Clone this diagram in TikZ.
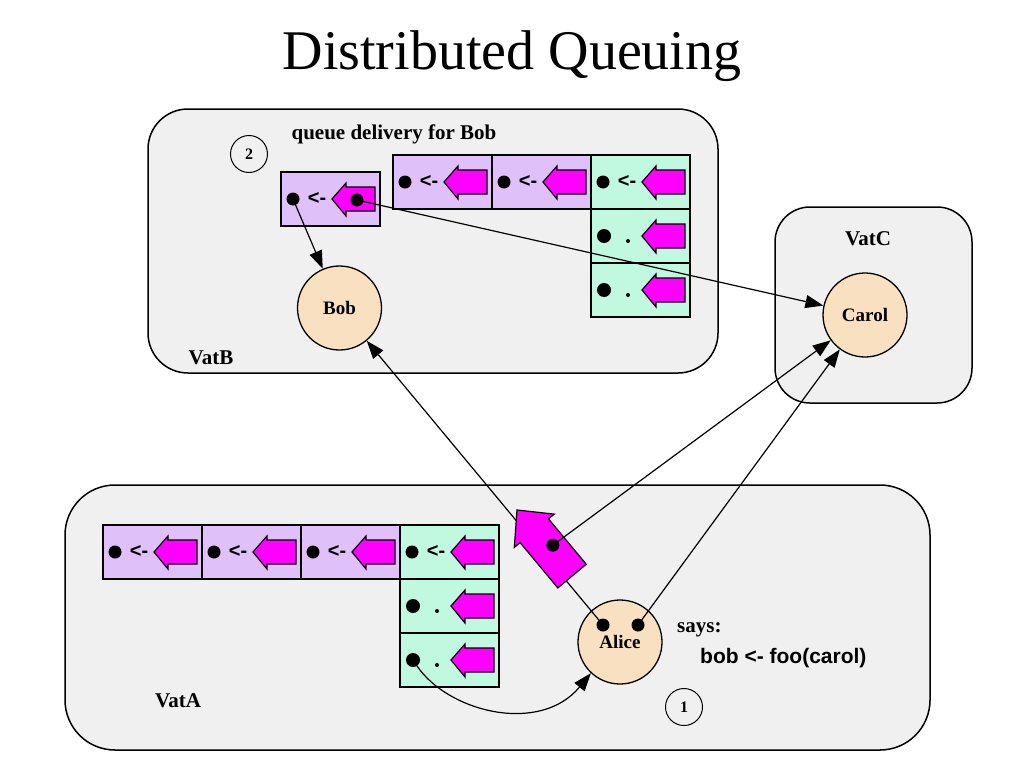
\documentclass[tikz,border=0pt]{standalone}
\usepackage{fontspec}
\setmainfont{Liberation Serif}
\setsansfont{Liberation Sans}
\usetikzlibrary{arrows.meta}
\definecolor{boxgray}{RGB}{240,240,240}
\definecolor{cellpurp}{RGB}{224,192,248}
\definecolor{cellgreen}{RGB}{192,248,224}
\definecolor{peach}{RGB}{248,224,192}
\definecolor{mag}{RGB}{255,0,255}
\tikzset{
  vat/.style={draw=black, fill=boxgray, line width=1.5pt, rounded corners=#1, inner sep=0pt, outer sep=0pt},
  cellbox/.style={draw=black, line width=1.8pt, minimum width=99pt, minimum height=54pt, inner sep=0pt, outer sep=0pt, anchor=north west},
  dotn/.style={circle, fill=black, inner sep=0pt, outer sep=0pt, minimum size=13pt},
  smalldot/.style={circle, fill=black, inner sep=0pt, minimum size=4pt},
  magarrow/.style={fill=mag, draw=black, line width=1.2pt, line join=miter},
  ltxt/.style={font=\sffamily\bfseries\fontsize{20}{22}\selectfont, inner sep=0pt},
  lbl/.style={font=\bfseries\fontsize{21}{24}\selectfont, inner sep=0pt},
  obj/.style={circle, draw=black, fill=peach, line width=1.3pt, minimum size=84pt, inner sep=0pt, font=\bfseries\fontsize{19}{22}\selectfont},
  numc/.style={circle, draw=black, line width=1pt, minimum size=37pt, inner sep=0pt, font=\bfseries\fontsize{16}{18}\selectfont},
  conn/.style={draw=black, line width=1.2pt, -{Triangle[length=18pt,width=13pt]}},
  pics/qcellL/.style={code={
    \node[cellbox, fill=#1] (-box) at (0,0) {};
    \node[dotn] (-dot) at (12,27) {};
    \node[ltxt] (-sym) at (36,26) {<-};
    \draw[magarrow] (51,27) -- (65,11) -- (65,15) -- (94,15) -- (94,39) -- (65,39) -- (65,44) -- cycle;
  }},
  pics/qcellD/.style={code={
    \node[cellbox, fill=#1] (-box) at (0,0) {};
    \node[dotn, minimum size=14pt] (-dot) at (13,27) {};
    \node[smalldot] (-sym) at (37,32) {};
    \draw[magarrow] (51,27) -- (65,11) -- (65,15) -- (94,15) -- (94,39) -- (65,39) -- (65,44) -- cycle;
  }}
}
\begin{document}
\begin{tikzpicture}[x=1pt, y=-1pt]
\useasboundingbox (0,0) rectangle (1024,768);
\fill[white] (0,0) rectangle (1024,768);

% title
\node[font=\fontsize{56}{60}\selectfont, anchor=base, inner sep=0pt] (title) at (512,70) {Distributed Queuing};

% vats
\node[vat=40pt, minimum width=570pt, minimum height=264pt] (vatB) at (433,241) {};
\node[vat=35pt, minimum width=197pt, minimum height=196pt] (vatC) at (873.5,305) {};
\node[vat=50pt, minimum width=865pt, minimum height=265pt] (vatA) at (497.5,617.5) {};

% VatB content
\node[numc] (n2) at (249,154) {2};
\node[lbl, anchor=base] (qd) at (394,139) {queue delivery for Bob};
\pic (sB) at (281,172) {qcellL=cellpurp};
\node[dotn] (sdot) at (357,200) {};
\pic (bB1) at (393,155) {qcellL=cellpurp};
\pic (bB2) at (492,155) {qcellL=cellpurp};
\pic (bB3) at (591,155) {qcellL=cellgreen};
\pic (bB4) at (591,209) {qcellD=cellgreen};
\pic (bB5) at (591,263) {qcellD=cellgreen};
\node[obj] (bob) at (339.5,308) {Bob};
\node[lbl, anchor=base] (vB) at (211,364) {VatB};

% VatC content
\node[lbl, anchor=base] (vC) at (868,245) {VatC};
\node[obj] (carol) at (865,315) {Carol};

% VatA content
\pic (aA1) at (103,525) {qcellL=cellpurp};
\pic (aA2) at (202,525) {qcellL=cellpurp};
\pic (aA3) at (301,525) {qcellL=cellpurp};
\pic (aA4) at (400,525) {qcellL=cellgreen};
\pic (aA5) at (400,579) {qcellD=cellgreen};
\pic (aA6) at (400,633) {qcellD=cellgreen};
\node[lbl, anchor=base] (vA) at (178,707) {VatA};
\node[obj] (alice) at (620,642) {Alice};
\node[dotn] (adl) at (603,625) {};
\node[dotn] (adr) at (638,625) {};
\node[lbl, anchor=base west] (says) at (677,632) {says:};
\node[font=\sffamily\bfseries\fontsize{21}{24}\selectfont, anchor=base west, inner sep=0pt] (code) at (700,663) {bob <- foo(carol)};
\node[numc] (n1) at (684,707) {1};

% connectors
\draw[conn] (sB-dot) -- (bob);
\draw[conn] (sdot) -- (carol);
\draw[conn] (adl) -- (bob);

% message in transit
\begin{scope}[shift={(517,510)}, rotate=-50.2]
  \draw[magarrow] (0,0) -- (27,26) -- (27,18.5) -- (86,18.5) -- (86,-18.5) -- (27,-18.5) -- (27,-26) -- cycle;
  \node[dotn] (mdot) at (50,-5) {};
\end{scope}
\draw[conn] (mdot) -- (carol);
\draw[conn] (adr) -- (carol);
\draw[conn] (aA6-dot) .. controls (448,712) and (540,735) .. (alice.227);
\end{tikzpicture}
\end{document}
